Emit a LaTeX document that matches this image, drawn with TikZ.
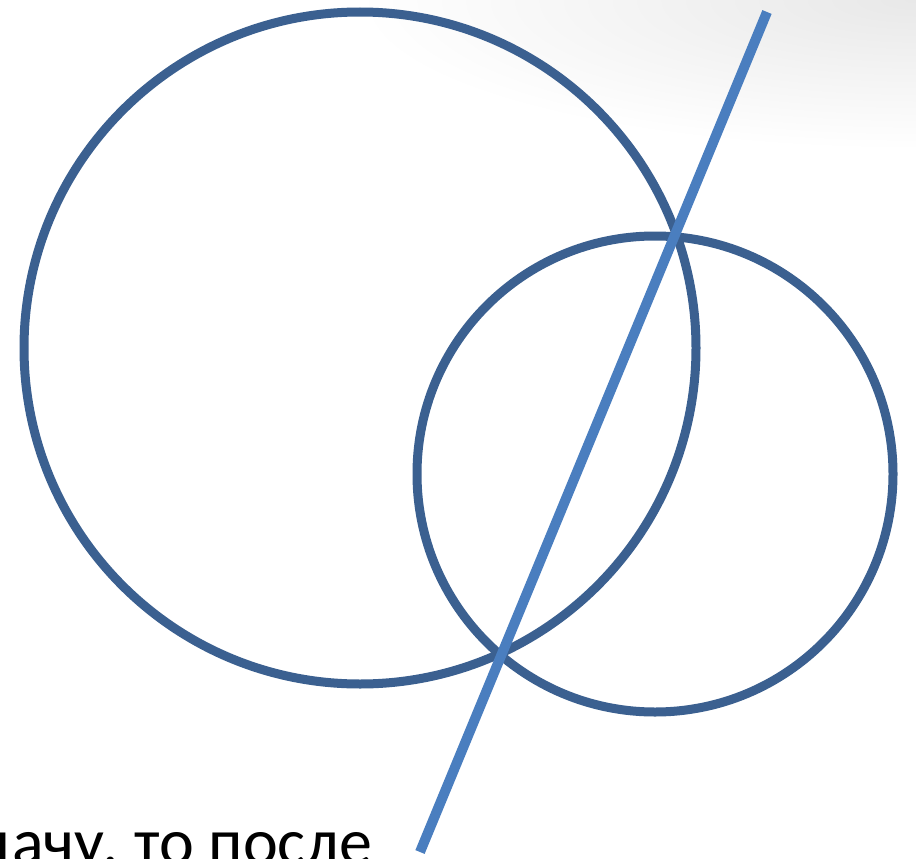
\documentclass[tikz,border=0pt]{standalone}
\usepackage{fontspec}
\setmainfont{Carlito}
\definecolor{circblue}{HTML}{3B6090}
\definecolor{lineblue}{HTML}{4A7EBF}
\begin{document}
\begin{tikzpicture}[x=1pt,y=-1pt,
  circ/.style={draw=circblue,line width=9pt},
  secant/.style={draw=lineblue,line width=10pt}]
\useasboundingbox (0,0) rectangle (916,859);
\clip (0,0) rectangle (916,859);
\fill[white] (0,0) rectangle (916,859);
\shade[inner color=black!9, outer color=white] (916,0) ellipse (560 and 150);
\coordinate (bigc) at (360,348);
\coordinate (smallc) at (655,474);
\coordinate (lineA) at (420,852);
\coordinate (lineB) at (767,12);
\draw[circ] (bigc) circle (336);
\draw[circ] (smallc) circle (238);
\draw[secant] (lineA) -- (lineB);
\node[anchor=base west,inner sep=0pt,font=\fontsize{66}{78}\selectfont] (txt) at (-25,864) {дачу, то после};
\end{tikzpicture}
\end{document}
